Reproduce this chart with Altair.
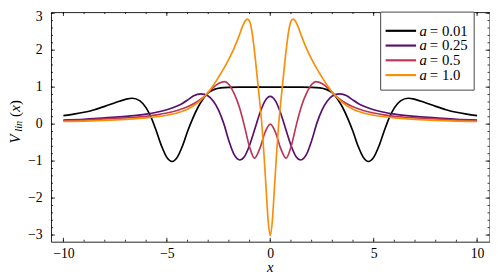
import altair as alt
import pandas as pd

# ---------------- data ----------------
labels = ["a = 0.01", "a = 0.25", "a = 0.5", "a = 1.0"]
colors = ["#000004", "#57106e", "#bc3754", "#f98e09"]

x_a001 = [-10, -9.5, -9, -8.5, -8, -7.5, -7, -6.67, -6.3, -6, -5.75, -5.5, -5.25, -5, -4.74,
          -4.5, -4.25, -4, -3.75, -3.5, -3.25, -3, -2.7, -2.4, -2, -1.5, -1,
          0,
          1, 1.5, 2, 2.4, 2.7, 3, 3.25, 3.5, 3.75, 4, 4.25, 4.5, 4.74, 5, 5.25, 5.5,
          5.75, 6, 6.3, 6.67, 7, 7.5, 8, 8.5, 9, 9.5, 10]
v_a001 = [0.23, 0.27, 0.32, 0.39, 0.48, 0.58, 0.67, 0.70, 0.63, 0.44, 0.17, -0.2, -0.6, -0.9, -1.01,
          -0.9, -0.6, -0.2, 0.15, 0.45, 0.68, 0.85, 0.94, 0.98, 0.995, 1.0, 1.0,
          1.0,
          1.0, 1.0, 0.995, 0.98, 0.94, 0.85, 0.68, 0.45, 0.15, -0.2, -0.6, -0.9, -1.01, -0.9, -0.6, -0.2,
          0.17, 0.44, 0.63, 0.70, 0.67, 0.58, 0.48, 0.39, 0.32, 0.27, 0.23]

x_a025 = [-10, -9, -8, -7, -6, -5.5, -5, -4.5, -4.25, -4, -3.7, -3.35, -3, -2.75, -2.5, -2.25,
          -2, -1.75, -1.47, -1.25, -1, -0.75, -0.5, -0.25,
          0,
          0.25, 0.5, 0.75, 1, 1.25, 1.47, 1.75, 2, 2.25, 2.5, 2.75, 3, 3.35, 3.7, 4, 4.25,
          4.5, 5, 5.5, 6, 7, 8, 9, 10]
v_a025 = [0.11, 0.13, 0.17, 0.21, 0.27, 0.32, 0.39, 0.49, 0.56, 0.65, 0.77, 0.82, 0.76, 0.62, 0.38, 0.02,
          -0.45, -0.82, -0.97, -0.88, -0.57, -0.14, 0.30, 0.63,
          0.75,
          0.63, 0.30, -0.14, -0.57, -0.88, -0.97, -0.82, -0.45, 0.02, 0.38, 0.62, 0.76, 0.82, 0.77, 0.65, 0.56,
          0.49, 0.39, 0.32, 0.27, 0.21, 0.17, 0.13, 0.11]

x_a05 = [-10, -9, -8, -7, -6, -5.5, -5, -4.5, -4, -3.5, -3.1, -2.8, -2.5, -2.2, -2, -1.75,
         -1.5, -1.27, -1, -0.76, -0.5, -0.25,
         0,
         0.25, 0.5, 0.76, 1, 1.27, 1.5, 1.75, 2, 2.2, 2.5, 2.8, 3.1, 3.5, 4, 4.5, 5, 5.5,
         6, 7, 8, 9, 10]
v_a05 = [0.09, 0.11, 0.14, 0.17, 0.21, 0.25, 0.30, 0.37, 0.47, 0.62, 0.79, 0.97, 1.10, 1.15, 1.07, 0.83,
         0.47, 0.0, -0.62, -0.92, -0.65, -0.22,
         0.0,
         -0.22, -0.65, -0.92, -0.62, 0.0, 0.47, 0.83, 1.07, 1.15, 1.10, 0.97, 0.79, 0.62, 0.47, 0.37, 0.30, 0.25,
         0.21, 0.17, 0.14, 0.11, 0.09]

x_a10 = [-10, -9, -8, -7, -6, -5.5, -5, -4.5, -4, -3.5, -3.25, -3, -2.75, -2.5, -2.25, -2,
         -1.75, -1.5, -1.35, -1.2, -1.1, -1.0, -0.9, -0.8, -0.7, -0.6, -0.5, -0.4, -0.3, -0.2, -0.1,
         0,
         0.1, 0.2, 0.3, 0.4, 0.5, 0.6, 0.7, 0.8, 0.9, 1.0, 1.1, 1.2, 1.35, 1.5, 1.75,
         2, 2.25, 2.5, 2.75, 3, 3.25, 3.5, 4, 4.5, 5, 5.5, 6, 7, 8, 9, 10]
v_a10 = [0.07, 0.08, 0.10, 0.13, 0.17, 0.20, 0.24, 0.30, 0.40, 0.58, 0.71, 0.86, 1.05, 1.27, 1.50, 1.76,
         2.05, 2.40, 2.63, 2.80, 2.84, 2.78, 2.55, 2.15, 1.65, 1.10, 0.55, -0.05, -0.85, -1.75, -2.62,
         -3.02,
         -2.62, -1.75, -0.85, -0.05, 0.55, 1.10, 1.65, 2.15, 2.55, 2.78, 2.84, 2.80, 2.63, 2.40, 2.05,
         1.76, 1.50, 1.27, 1.05, 0.86, 0.71, 0.58, 0.40, 0.30, 0.24, 0.20, 0.17, 0.13, 0.10, 0.08, 0.07]

x_major = [-10, -5, 0, 5, 10]
x_minor = [-10, -9, -8, -7, -6, -5, -4, -3, -2, -1, 0, 1, 2, 3, 4, 5, 6, 7, 8, 9, 10]
y_major = [-3, -2, -1, 0, 1, 2, 3]
y_labels = ["\u22123", "\u22122", "\u22121", "0", "1", "2", "3"]
y_minor = [round(-3 + 0.2 * i, 1) for i in range(31)]

# ---------------- build table ----------------
frames = []
for lab, xs_, vs_ in zip(labels, [x_a001, x_a025, x_a05, x_a10], [v_a001, v_a025, v_a05, v_a10]):
    frames.append(pd.DataFrame({"x": xs_, "v": vs_, "a": lab}))
df = pd.concat(frames, ignore_index=True)

TOP = 2
W = 445.6
H = 233.3
FONT = "Liberation Serif"

xsc = alt.Scale(domain=[-10.6, 10.6], nice=False, zero=False)
ysc = alt.Scale(domain=[-3.18, 3.03], nice=False, zero=False)
csc = alt.Scale(domain=labels, range=colors)

x_axis = alt.Axis(values=x_major, title=None, labelPadding=5, format="d")

lines = alt.Chart(df).mark_line(strokeWidth=1.7, interpolate="monotone", clip=True).encode(
    x=alt.X("x:Q", scale=xsc, axis=x_axis),
    y=alt.Y("v:Q", scale=ysc, axis=None),
    color=alt.Color("a:N", scale=csc, legend=None),
)

dxmaj = pd.DataFrame({"x": x_major})
dxmin = pd.DataFrame({"x": x_minor})
dymaj = pd.DataFrame({"v": y_major})
dymin = pd.DataFrame({"v": y_minor})

def xticks(d, L):
    bot = alt.Chart(d).mark_rule(color="#000", strokeWidth=0.8).encode(
        x=alt.X("x:Q", scale=xsc, axis=x_axis), y=alt.value(H), y2=alt.value(H - L))
    top = alt.Chart(d).mark_rule(color="#000", strokeWidth=0.8).encode(
        x=alt.X("x:Q", scale=xsc, axis=x_axis), y=alt.value(0), y2=alt.value(L))
    return [bot, top]

def yticks(d, L):
    lef = alt.Chart(d).mark_rule(color="#000", strokeWidth=0.8).encode(
        y=alt.Y("v:Q", scale=ysc, axis=None), x=alt.value(0), x2=alt.value(L))
    rig = alt.Chart(d).mark_rule(color="#000", strokeWidth=0.8).encode(
        y=alt.Y("v:Q", scale=ysc, axis=None), x=alt.value(W), x2=alt.value(W - L))
    return [lef, rig]

ticks = xticks(dxmaj, 4) + xticks(dxmin, 2) + yticks(dymaj, 4) + yticks(dymin, 2)

# y tick labels (top one nudged down so it stays inside the page)
dylab = pd.DataFrame({"v": y_major[:-1], "t": y_labels[:-1]})
dylab_top = pd.DataFrame({"v": y_major[-1:], "t": y_labels[-1:]})
ylab = alt.Chart(dylab).mark_text(font=FONT, fontSize=14, align="right", baseline="middle",
                                  color="#000").encode(
    y=alt.Y("v:Q", scale=ysc, axis=None), x=alt.value(-8.5), text="t:N")
ylab_top = alt.Chart(dylab_top).mark_text(font=FONT, fontSize=14, align="right", baseline="middle",
                                          dy=4, color="#000").encode(
    y=alt.Y("v:Q", scale=ysc, axis=None), x=alt.value(-8.5), text="t:N")

one = pd.DataFrame({"k": [0]})

def txt(t, x, y, size, style="normal", angle=0, align="left", baseline="alphabetic"):
    return alt.Chart(one).mark_text(text=t, font=FONT, fontSize=size, fontStyle=style,
                                    angle=angle, align=align, baseline=baseline,
                                    color="#000").encode(x=alt.value(x), y=alt.value(y))

Y0 = 8 + TOP
titles = [
    txt("x", 222.8, 274.0 - Y0, 15, "italic", align="center"),
    txt("V", -32.0, 143.5 - Y0, 15, "italic", angle=270),
    txt("lin", -29.3, 131.5 - Y0, 10.5, "italic", angle=270),
    txt("(", -32.0, 116.5 - Y0, 15, angle=270),
    txt("x", -32.0, 111.3 - Y0, 15, "italic", angle=270),
    txt(")", -32.0, 104.5 - Y0, 15, angle=270),
]

plot = alt.layer(lines, *ticks, ylab, ylab_top, *titles)

# ---------------- legend ----------------
dleg = pd.DataFrame({"a": labels})
rowscale = alt.Scale(type="point", domain=labels, range=[29 - Y0, 74 - Y0], padding=0)
box = alt.Chart(one).mark_rect(fill="white", stroke="#444", strokeWidth=1).encode(
    x=alt.value(335), x2=alt.value(430), y=alt.value(9 - Y0 + 1), y2=alt.value(89.3 - Y0))
leg_lines = alt.Chart(dleg).mark_rule(strokeWidth=2.2).encode(
    x=alt.value(340), x2=alt.value(371),
    y=alt.Y("a:N", scale=rowscale, axis=None),
    color=alt.Color("a:N", scale=csc, legend=None))
leg_a = alt.Chart(dleg).mark_text(text="a", font=FONT, fontSize=15, fontStyle="italic",
                                  align="left", baseline="middle", color="#000").encode(
    x=alt.value(374.5), y=alt.Y("a:N", scale=rowscale, axis=None))
leg_rest = alt.Chart(dleg).transform_calculate(rest="slice(datum.a, 2)").mark_text(
    font=FONT, fontSize=15, align="left", baseline="middle", color="#000").encode(
    x=alt.value(385), y=alt.Y("a:N", scale=rowscale, axis=None), text="rest:N")
legend = alt.layer(box, leg_lines, leg_a, leg_rest)

chart = alt.layer(plot, legend).resolve_scale(y="independent").properties(
    width=W, height=H,
    autosize=alt.AutoSizeParams(type="none"),
    padding={"left": 43.7, "top": TOP, "right": 0.5, "bottom": 33},
).configure_view(stroke="#222", strokeWidth=1).configure_axis(
    grid=False, domain=False, ticks=False, tickSize=0,
    labelFont=FONT, labelFontSize=14, labelColor="#000",
)

chart.save("out.html", embed_options={"renderer": "svg", "actions": False})
